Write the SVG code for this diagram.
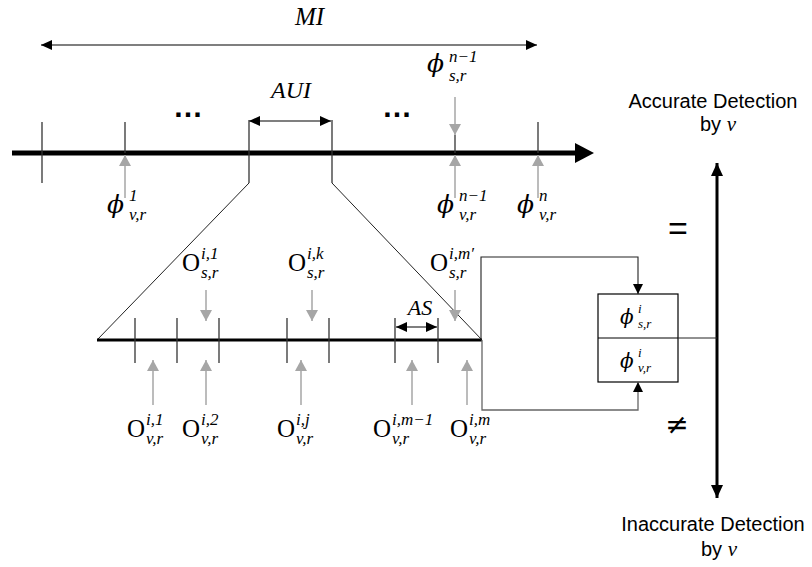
<svg xmlns="http://www.w3.org/2000/svg" width="812" height="567" viewBox="0 0 812 567">
<style>
.math{font-family:"Liberation Serif","DejaVu Serif",serif;font-style:italic;fill:#000}
.phi{font-family:"DejaVu Serif",serif;font-style:italic;fill:#000}
.up{font-family:"Liberation Serif","DejaVu Serif",serif;fill:#000}
.ss{font-family:"Liberation Serif","DejaVu Serif",serif;font-style:italic;font-size:17px;fill:#000}
.ssb{font-family:"Liberation Serif","DejaVu Serif",serif;font-style:italic;font-size:13px;fill:#000}
.sans{font-family:"Liberation Sans","Open Sans",sans-serif;font-size:20px;fill:#000;text-anchor:middle}
.tick{stroke:#333;stroke-width:1.3;fill:none}
.thin{stroke:#222;stroke-width:1;fill:none}
.gray{stroke:#a6a6a6;stroke-width:1.5;fill:none;marker-end:url(#ga)}
.dim{stroke:#555;stroke-width:1.3;fill:none;marker-start:url(#ba);marker-end:url(#ba)}
.dots{font-family:"Liberation Sans",sans-serif;font-size:30px;font-weight:bold;text-anchor:middle}
</style>
<defs>
<marker id="ga" markerUnits="userSpaceOnUse" markerWidth="12" markerHeight="12" refX="11" refY="6" orient="auto"><path d="M0,0 L11,6 L0,12 z" fill="#a6a6a6"/></marker>
<marker id="ba" markerUnits="userSpaceOnUse" markerWidth="12" markerHeight="10" refX="11" refY="5" orient="auto-start-reverse"><path d="M0,0 L11,5 L0,10 z" fill="#000"/></marker>
<marker id="ca" markerUnits="userSpaceOnUse" markerWidth="10" markerHeight="10" refX="10" refY="5" orient="auto"><path d="M0,0 L10,5 L0,10 z" fill="#000"/></marker>
<marker id="va" markerUnits="userSpaceOnUse" markerWidth="14" markerHeight="12" refX="13" refY="6" orient="auto-start-reverse"><path d="M0,0 L13,6 L0,12 z" fill="#000"/></marker>
</defs>
<rect width="812" height="567" fill="#fff"/>

<g id="top-timeline">
<line x1="12" y1="153" x2="578" y2="153" stroke="#000" stroke-width="5"/>
<polygon points="575,143 594,153 575,163" fill="#000"/>
<line class="tick" x1="42" y1="122" x2="42" y2="183"/>
<line class="tick" x1="125" y1="122" x2="125" y2="153"/>
<line class="tick" x1="249" y1="120" x2="249" y2="183"/>
<line class="tick" x1="332" y1="120" x2="332" y2="183"/>
<line class="tick" x1="455" y1="135" x2="455" y2="153"/>
<line class="tick" x1="538" y1="122" x2="538" y2="153"/>
<text class="dots" x="188" y="117">…</text>
<text class="dots" x="397" y="117">…</text>
</g>

<g id="mi">
<line class="dim" x1="41" y1="45" x2="537" y2="45"/>
<text class="math" x="295" y="25" font-size="25">MI</text>
</g>

<g id="aui">
<line class="dim" x1="249" y1="121" x2="331" y2="121"/>
<text class="math" x="291" y="98" font-size="24" text-anchor="middle">AUI</text>
</g>

<g id="phi-s-n-1">
<text class="phi" x="427" y="72" font-size="25">ϕ</text>
<text class="ss" x="449" y="62">n−1</text>
<text class="ss" x="449" y="81">s,r</text>
</g>
<g id="phi-v-1">
<text class="phi" x="107" y="213" font-size="25">ϕ</text>
<text class="ss" x="129" y="201">1</text>
<text class="ss" x="129" y="220">v,r</text>
</g>
<g id="phi-v-n-1">
<text class="phi" x="437" y="213" font-size="25">ϕ</text>
<text class="ss" x="459" y="201">n−1</text>
<text class="ss" x="459" y="220">v,r</text>
</g>
<g id="phi-v-n">
<text class="phi" x="517" y="213" font-size="25">ϕ</text>
<text class="ss" x="539" y="201">n</text>
<text class="ss" x="539" y="220">v,r</text>
</g>

<g id="bottom-timeline">
<line class="thin" x1="249" y1="183" x2="97" y2="340"/>
<line class="thin" x1="332" y1="183" x2="482" y2="340"/>
<line x1="97" y1="340" x2="482" y2="340" stroke="#000" stroke-width="3"/>
<line class="tick" x1="135" y1="318" x2="135" y2="363"/>
<line class="tick" x1="177" y1="318" x2="177" y2="363"/>
<line class="tick" x1="219" y1="318" x2="219" y2="363"/>
<line class="tick" x1="287" y1="318" x2="287" y2="363"/>
<line class="tick" x1="329" y1="318" x2="329" y2="363"/>
<line class="tick" x1="395" y1="318" x2="395" y2="363"/>
<line class="tick" x1="438" y1="318" x2="438" y2="363"/>
</g>

<g id="as">
<line class="dim" x1="396" y1="327" x2="437" y2="327"/>
<text class="math" x="420" y="315" font-size="22" text-anchor="middle">AS</text>
</g>

<g id="o-s-1">
<text class="up" x="182" y="271" font-size="25">O</text>
<text class="ss" x="201" y="259">i,1</text>
<text class="ss" x="201" y="278">s,r</text>
</g>
<g id="o-s-k">
<text class="up" x="288" y="271" font-size="25">O</text>
<text class="ss" x="307" y="259">i,k</text>
<text class="ss" x="307" y="278">s,r</text>
</g>
<g id="o-s-m">
<text class="up" x="430" y="271" font-size="25">O</text>
<text class="ss" x="449" y="259">i,m′</text>
<text class="ss" x="449" y="278">s,r</text>
</g>
<g id="o-v-1">
<text class="up" x="127" y="437" font-size="25">O</text>
<text class="ss" x="146" y="425">i,1</text>
<text class="ss" x="146" y="444">v,r</text>
</g>
<g id="o-v-2">
<text class="up" x="182" y="437" font-size="25">O</text>
<text class="ss" x="201" y="425">i,2</text>
<text class="ss" x="201" y="444">v,r</text>
</g>
<g id="o-v-j">
<text class="up" x="277" y="437" font-size="25">O</text>
<text class="ss" x="296" y="425">i,j</text>
<text class="ss" x="296" y="444">v,r</text>
</g>
<g id="o-v-m-1">
<text class="up" x="373" y="437" font-size="25">O</text>
<text class="ss" x="392" y="425">i,m−1</text>
<text class="ss" x="392" y="444">v,r</text>
</g>
<g id="o-v-m">
<text class="up" x="450" y="437" font-size="25">O</text>
<text class="ss" x="469" y="425">i,m</text>
<text class="ss" x="469" y="444">v,r</text>
</g>

<g id="compare-box">
<rect x="598" y="294" width="80" height="88" fill="#fff" stroke="#000" stroke-width="1.2"/>
<line x1="598" y1="338" x2="678" y2="338" stroke="#000" stroke-width="1"/>
<text class="phi" x="620" y="324" font-size="20">ϕ</text>
<text class="ssb" x="638" y="313">i</text>
<text class="ssb" x="638" y="328">s,r</text>
<text class="phi" x="620" y="368" font-size="20">ϕ</text>
<text class="ssb" x="638" y="357">i</text>
<text class="ssb" x="638" y="372">v,r</text>
</g>

<g id="outcome">
<line x1="717" y1="163" x2="717" y2="498" stroke="#000" stroke-width="3" marker-start="url(#va)" marker-end="url(#va)"/>
<text class="sans" x="713" y="108">Accurate Detection</text>
<text class="sans" x="718" y="131">by <tspan class="math" font-size="21">v</tspan></text>
<text class="sans" x="713" y="531">Inaccurate Detection</text>
<text class="sans" x="719" y="556">by <tspan class="math" font-size="21">v</tspan></text>
<text x="678" y="240" font-family="Liberation Sans, sans-serif" font-size="34" text-anchor="middle">=</text>
<text x="677" y="434" font-family="DejaVu Sans, sans-serif" font-size="28" text-anchor="middle">≠</text>
</g>

<g id="connectors">
<line class="gray" x1="125" y1="198" x2="125" y2="155"/>
<line class="gray" x1="455" y1="198" x2="455" y2="155"/>
<line class="gray" x1="538" y1="198" x2="538" y2="155"/>
<line class="gray" x1="455" y1="97" x2="455" y2="135"/>
<line class="gray" x1="206" y1="290" x2="206" y2="321"/>
<line class="gray" x1="312" y1="290" x2="312" y2="321"/>
<line class="gray" x1="455" y1="290" x2="455" y2="321"/>
<line class="gray" x1="153" y1="405" x2="153" y2="360"/>
<line class="gray" x1="206" y1="405" x2="206" y2="360"/>
<line class="gray" x1="301" y1="405" x2="301" y2="360"/>
<line class="gray" x1="412" y1="405" x2="412" y2="360"/>
<line class="gray" x1="467" y1="405" x2="467" y2="360"/>
<polyline points="481,340 481,257 638,257 638,294" fill="none" stroke="#222" stroke-width="1.1" marker-end="url(#ca)"/>
<polyline points="482,340 482,410 638,410 638,382" fill="none" stroke="#666" stroke-width="1.3" marker-end="url(#ca)"/>
<line x1="678" y1="338" x2="717" y2="338" stroke="#222" stroke-width="1"/>
</g>
</svg>
